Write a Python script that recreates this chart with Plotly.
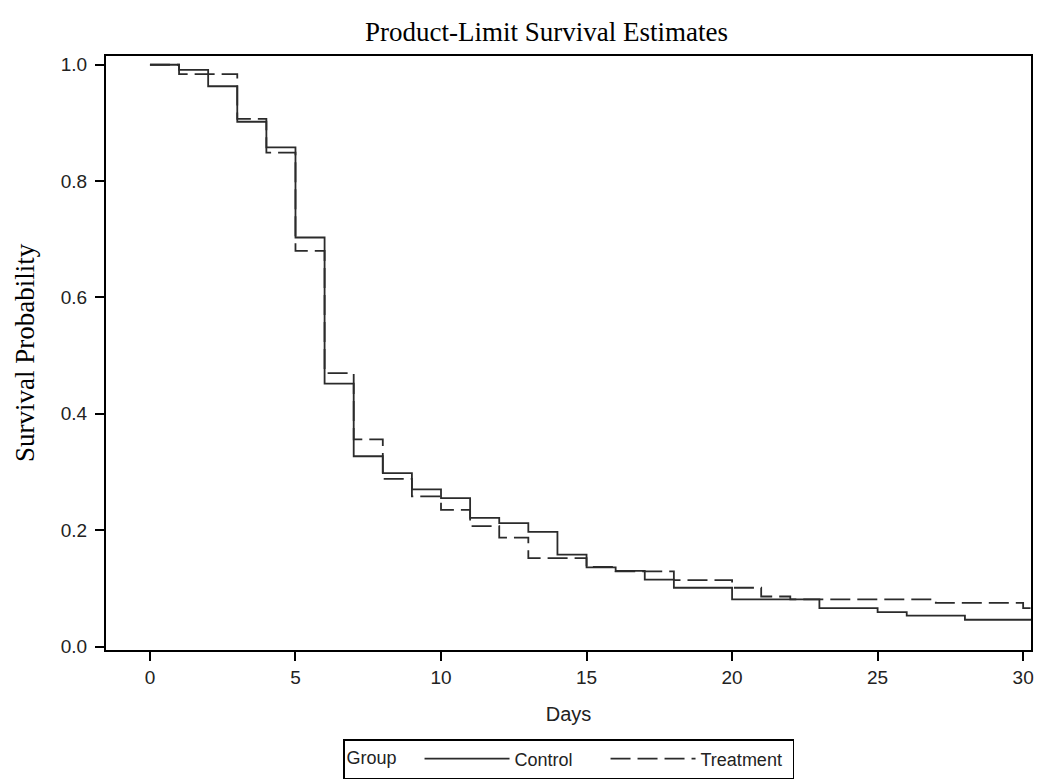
import plotly.graph_objects as go

# Control group (solid) step data
control_days = [0, 1, 2, 3, 4, 5, 6, 7, 8, 9, 10, 11, 12, 13, 14, 15, 16, 17, 18, 20, 23, 25, 26, 28, 31]
control_surv = [1.0, 0.991, 0.963, 0.902, 0.858, 0.703, 0.452, 0.327, 0.298, 0.270, 0.255, 0.221, 0.212,
                0.197, 0.158, 0.136, 0.130, 0.115, 0.101, 0.081, 0.066, 0.059, 0.053, 0.046, 0.046]

# Treatment group (dashed) step data
treat_days = [0, 1, 3, 4, 5, 6, 7, 8, 9, 10, 11, 12, 13, 15, 16, 18, 20, 21, 22, 27, 30, 31]
treat_surv = [1.0, 0.984, 0.907, 0.849, 0.680, 0.470, 0.356, 0.288, 0.258, 0.235, 0.207, 0.187, 0.152,
              0.137, 0.129, 0.114, 0.101, 0.086, 0.081, 0.075, 0.066, 0.066]

x_ticks = [0, 5, 10, 15, 20, 25, 30]
y_ticks = [0.0, 0.2, 0.4, 0.6, 0.8, 1.0]

LINE = "#2b2b2b"
SANS = "Liberation Sans, Arial, sans-serif"
SERIF = "Liberation Serif, Times New Roman, serif"

W, H = 1042, 775  # page body adds an 8px offset

fig = go.Figure()
fig.add_trace(go.Scatter(x=control_days, y=control_surv, mode="lines", name="Control",
                         line=dict(shape="hv", color=LINE, width=1.8)))
fig.add_trace(go.Scatter(x=treat_days, y=treat_surv, mode="lines", name="Treatment",
                         line=dict(shape="hv", color=LINE, width=1.8, dash="20px,7px")))

fig.update_layout(
    width=W, height=H,
    paper_bgcolor="white", plot_bgcolor="white",
    margin=dict(l=98, r=W - 1023, t=48, b=H - 642, autoexpand=False),
    title=dict(text="Product-Limit Survival Estimates", x=538.5 / W, xref="container", xanchor="center",
               y=1 - 24 / H, yanchor="middle",
               font=dict(family=SERIF, size=27, color="black")),
    xaxis=dict(range=[-1.51, 30.27], tickvals=x_ticks, ticks="outside", ticklen=9, tickwidth=1.5,
               tickcolor="black", showline=True, linewidth=2, linecolor="black", mirror=True,
               showgrid=False, zeroline=False,
               tickfont=dict(family=SANS, size=19, color="#222"),
               title=dict(text="Days", font=dict(family=SANS, size=20, color="#222"), standoff=20)),
    yaxis=dict(range=[-0.006, 1.015], tickvals=y_ticks, tickformat=".1f", ticks="outside", ticklen=9,
               tickwidth=1.5, tickcolor="black", showline=True, linewidth=2, linecolor="black",
               mirror=True, showgrid=False, zeroline=False, ticklabelstandoff=4,
               tickfont=dict(family=SANS, size=19, color="#222"),
               title=dict(text="Survival Probability", font=dict(family=SERIF, size=27, color="black"),
                          standoff=18)),
    showlegend=True,
    legend=dict(orientation="h", x=0.5, xanchor="center", yref="container", y=1 - 731 / H,
                yanchor="top",
                bordercolor="black", borderwidth=1.5, bgcolor="white",
                font=dict(family=SANS, size=18, color="#222"),
                title=dict(text="Group   ", side="left", font=dict(family=SANS, size=18, color="#222")),
                itemwidth=85, entrywidth=86, entrywidthmode="pixels", tracegroupgap=0),
)

fig.write_html("out.html")
